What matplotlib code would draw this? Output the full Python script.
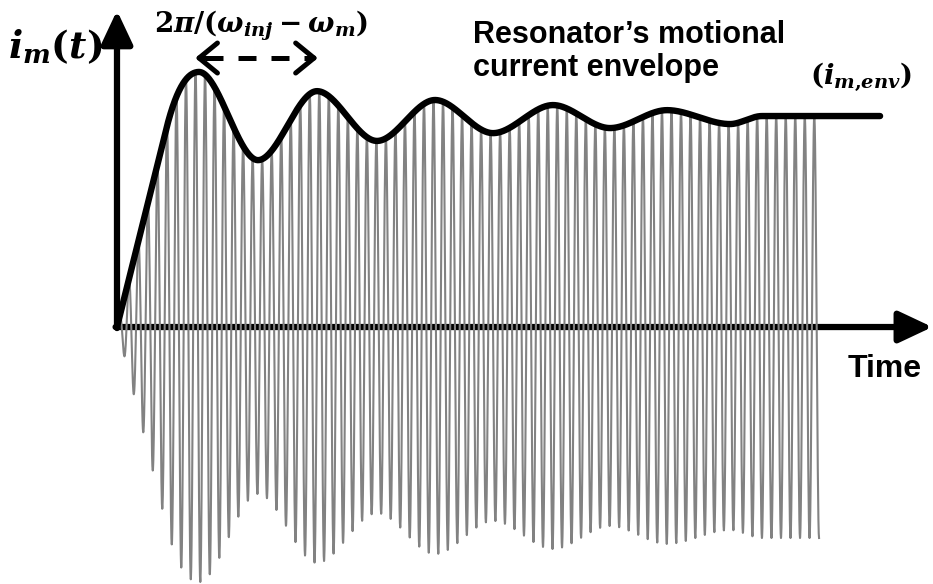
import numpy as np
import matplotlib
matplotlib.use("Agg")
import matplotlib.pyplot as plt

# envelope extrema
# time in carrier cycles, amplitude relative to the steady-state value
env_t = [0.0, 5.15, 8.61, 14.81, 21.01, 27.31, 33.41, 39.50, 45.80, 51.79, 57.78, 64.40, 67.76, 80.16]
env_a = [0.0, 0.934, 1.209, 0.791, 1.118, 0.882, 1.076, 0.919, 1.052, 0.943, 1.028, 0.962, 1.0, 1.0]

# carrier: number of cycles shown before the grey trace stops
n_cycles = 73.75
samples_per_cycle = 60

# beat period arrow goes from first to second envelope peak
beat_peaks = [env_t[2], env_t[4]]


def envelope(t):
    # piecewise cubic hermite, flat at the extrema, straight ramp at start
    t = np.asarray(t, dtype=float)
    out = np.zeros_like(t)
    slopes = np.zeros(len(env_t))
    ramp = env_a[1] / env_t[1]
    slopes[0] = slopes[1] = ramp
    for i in range(len(env_t) - 1):
        t0, t1 = env_t[i], env_t[i + 1]
        a0, a1 = env_a[i], env_a[i + 1]
        m0, m1 = slopes[i], slopes[i + 1]
        h = t1 - t0
        mask = (t >= t0) & (t <= t1)
        u = (t[mask] - t0) / h
        out[mask] = ((2 * u**3 - 3 * u**2 + 1) * a0 + (u**3 - 2 * u**2 + u) * h * m0
                     + (-2 * u**3 + 3 * u**2) * a1 + (u**3 - u**2) * h * m1)
    return out


plt.rcParams['mathtext.fontset'] = 'custom'
plt.rcParams['mathtext.rm'] = 'DejaVu Serif:bold'
plt.rcParams['mathtext.it'] = 'DejaVu Serif:italic:bold'
plt.rcParams['mathtext.bf'] = 'DejaVu Serif:bold'

fig = plt.figure(figsize=(9.33, 5.84), dpi=100)
ax = fig.add_axes([0, 0, 1, 1])
ax.set_xlim(-12.29, 85.72)
ax.set_ylim(-1.218, 1.550)
ax.axis('off')

# axes with arrow heads
ax.annotate('', xy=(0, 1.500), xytext=(0, -0.005),
            arrowprops=dict(arrowstyle='-|>,head_length=0.85,head_width=0.4',
                            lw=4.5, color='black', mutation_scale=24,
                            shrinkA=0, shrinkB=0), zorder=1)
ax.annotate('', xy=(85.65, 0), xytext=(-0.15, 0),
            arrowprops=dict(arrowstyle='-|>,head_length=0.85,head_width=0.4',
                            lw=4.5, color='black', mutation_scale=24,
                            shrinkA=0, shrinkB=0), zorder=1)

# grey motional current
t_sig = np.linspace(0, n_cycles, int(n_cycles * samples_per_cycle) + 1)
i_sig = envelope(t_sig) * np.sin(2 * np.pi * t_sig)
ax.plot(t_sig, i_sig, color='#828282', lw=1.5, zorder=2)

# black envelope
t_env = np.linspace(env_t[0], env_t[-1], 3000)
ax.plot(t_env, envelope(t_env), color='black', lw=4.6, zorder=3,
        solid_capstyle='round', solid_joinstyle='round')

# dashed beat-period arrow
y_arr = 1.275
ax.plot([beat_peaks[0] + 0.6, beat_peaks[1] - 0.6], [y_arr, y_arr], color='black',
        lw=3.6, dashes=(3.6, 3.0), zorder=3)
for tip, tail in [(beat_peaks[0] - 0.4, beat_peaks[0] + 0.6), (beat_peaks[1] + 0.1, beat_peaks[1] - 0.9)]:
    ax.annotate('', xy=(tip, y_arr), xytext=(tail, y_arr),
                arrowprops=dict(arrowstyle='->,head_length=0.55,head_width=0.45',
                                lw=3.6, color='black', mutation_scale=24,
                                shrinkA=0, shrinkB=0))

# labels
ax.text(0.0086, 0.9195, r'$i_m(t)$', transform=ax.transAxes, fontsize=27,
        ha='left', va='center')
ax.text(0.280, 0.956, r'$2\pi/(\omega_{inj}-\omega_m)$', transform=ax.transAxes,
        fontsize=20, ha='center', va='center')
ax.text(0.507, 0.912, "Resonator\u2019s motional\ncurrent envelope", transform=ax.transAxes,
        fontsize=22, fontweight='bold', family='Liberation Sans', ha='left', va='center',
        linespacing=1.12)
ax.text(0.923, 0.868, r'$(i_{m{,}env})$', transform=ax.transAxes, fontsize=20,
        ha='center', va='center')
ax.text(0.948, 0.368, 'Time', transform=ax.transAxes, fontsize=23,
        fontweight='bold', family='Liberation Sans', ha='center', va='center')

fig.savefig('out.png', dpi=100)
